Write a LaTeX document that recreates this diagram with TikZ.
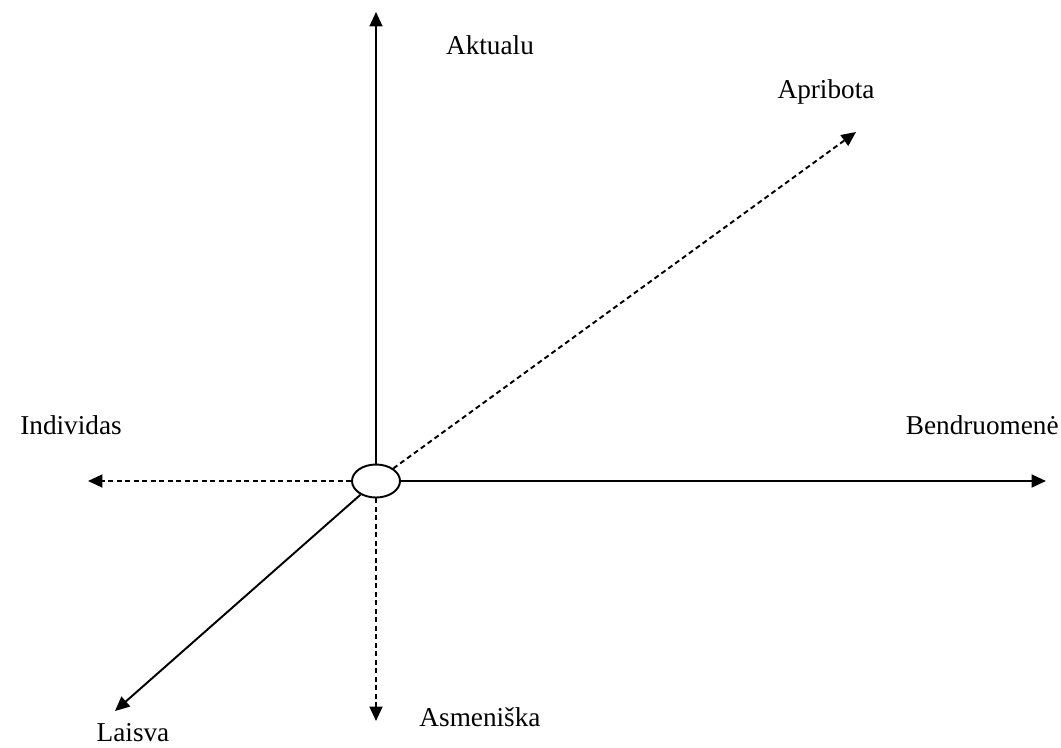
\documentclass[tikz,border=0pt]{standalone}
\usepackage{fontspec}
\setmainfont{Liberation Serif}
\usetikzlibrary{shapes.geometric, arrows.meta, positioning}

\begin{document}
\begin{tikzpicture}[x=0.02cm, y=-0.02cm,
        axis/.style={line width=1.1pt, -{Triangle[length=0.29cm, width=0.26cm]}},
        daxis/.style={axis, dash pattern=on 0.1cm off 0.07cm},
        lbl/.style={font=\fontsize{15.5}{18}\selectfont, inner sep=0pt}]
        \useasboundingbox (0,0) rectangle (1061,747);
        % Centras
        \node[draw, ellipse, line width=1.1pt, minimum width=0.96cm, minimum height=0.66cm, inner sep=0pt] (c) at (376,481) {};
        \coordinate (up) at (376,12);
        \coordinate (down) at (376,721);
        \coordinate (right) at (1046,481);
        \coordinate (left) at (88,481);
        \coordinate (ur) at (856,132);
        \coordinate (ll) at (115,711);
        \draw[axis] (c) -- (up);
        \draw[axis] (c) -- (right);
        \draw[axis] (c) -- (ll);
        \draw[daxis] (c) -- (down);
        \draw[daxis] (c) -- (left);
        \draw[daxis] (c) -- (ur);
        % Pavadinimai
        \node[lbl] (akt) at (490,45) {Aktualu};
        \node[lbl] (apr) at (826,92) {Apribota};
        \node[lbl] (ind) at (71,425) {Individas};
        \node[lbl, anchor=east] (ben) at (1059,425) {Bendruomenė};
        \node[lbl] (asm) at (480,717) {Asmeniška};
        \node[lbl] (lai) at (133,733) {Laisva};
    \end{tikzpicture}
\end{document}
